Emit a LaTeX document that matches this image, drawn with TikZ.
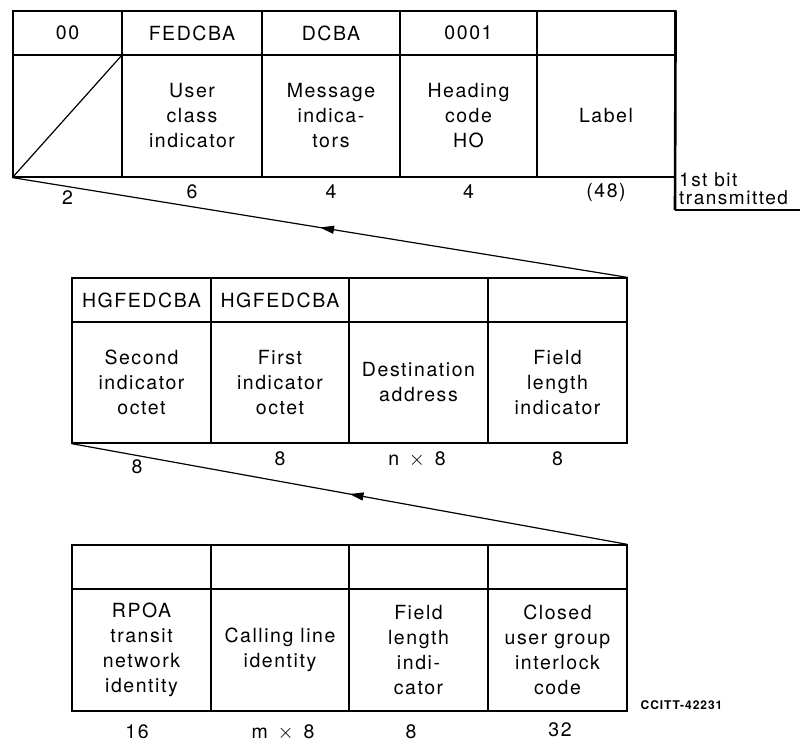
\documentclass[tikz,border=0pt]{standalone}
\usepackage{fontspec}
\setmainfont{TeX Gyre Heros}[LetterSpace=8]
\usetikzlibrary{arrows.meta,decorations.markings}

\tikzstyle{field} = [draw, line width=1.2pt, inner sep=0pt, align=center, font=\fontsize{19.5}{25}\selectfont]
\tikzstyle{head} = [field, minimum height=44pt]
\tikzstyle{body} = [field, minimum height=122pt]
\tikzstyle{bits} = [inner sep=0pt, font=\fontsize{19.5}{25}\selectfont]
\tikzstyle{flow} = [line width=1.2pt, postaction={decorate}, decoration={markings, mark=at position 0.5 with {\arrow{Triangle[length=14pt,width=8pt]}}}]

\begin{document}
\begin{tikzpicture}[x=1pt,y=-1pt]
		\useasboundingbox (0,0) rectangle (801,744);

		% heading part
		\node[head, minimum width=109pt] (a1) at (67.5,33) {00};
		\node[head, minimum width=140pt] (a2) at (192,33) {FEDCBA};
		\node[head, minimum width=138pt] (a3) at (331,33) {DCBA};
		\node[head, minimum width=137pt] (a4) at (468.5,33) {0001};
		\node[head, minimum width=138pt] (a5) at (606,33) {};
		\node[body, minimum width=109pt] (b1) at (67.5,116) {};
		\node[body, minimum width=140pt] (b2) at (192,116) {User\\class\\indicator};
		\node[body, minimum width=138pt] (b3) at (331,116) {Message\\indica-\\tors};
		\node[body, minimum width=137pt] (b4) at (468.5,116) {Heading\\code\\HO};
		\node[body, minimum width=138pt] (b5) at (606,116) {Label};
		\draw[line width=1.2pt] (b1.south west) -- (b1.north east);
		\node[bits] (s1) at (67.5,198) {2};
		\node[bits] (s2) at (192,192) {6};
		\node[bits] (s3) at (331,192) {4};
		\node[bits] (s4) at (468.5,192) {4};
		\node[bits] (s5) at (606,192) {(48)};

		\coordinate (bitcorner) at (675,210);
		\coordinate (bitend) at (800,210);
		\draw[line width=2.6pt] (a5.north east) -- (bitcorner);
		\draw[line width=1.2pt] (bitcorner) -- (bitend);
		\node[anchor=north west, inner sep=0pt, align=left, font=\fontsize{19}{18}\selectfont] (first) at (679,172) {1st bit\\transmitted};

		% address part
		\node[head, minimum width=139pt] (c1) at (141.5,300) {HGFEDCBA};
		\node[head, minimum width=138pt] (c2) at (280,300) {HGFEDCBA};
		\node[head, minimum width=139pt] (c3) at (418.5,300) {};
		\node[head, minimum width=139pt] (c4) at (557.5,300) {};
		\node[body, minimum width=139pt, minimum height=121pt] (d1) at (141.5,382.5) {Second\\indicator\\octet};
		\node[body, minimum width=138pt, minimum height=121pt] (d2) at (280,382.5) {First\\indicator\\octet};
		\node[body, minimum width=139pt, minimum height=121pt] (d3) at (418.5,382.5) {Destination\\address};
		\node[body, minimum width=139pt, minimum height=121pt] (d4) at (557.5,382.5) {Field\\length\\indicator};
		\node[bits] (t1) at (137,467) {8};
		\node[bits] (t2) at (280,459) {8};
		\node[bits] (t3) at (417,459) {n\enspace$\times$\enspace8};
		\node[bits] (t4) at (557.5,459) {8};
		\draw[flow] (c4.north east) -- (b1.south west);

		% facilities part
		\node[head, minimum width=139pt] (e1) at (141.5,567) {};
		\node[head, minimum width=138pt] (e2) at (280,567) {};
		\node[head, minimum width=139pt] (e3) at (418.5,567) {};
		\node[head, minimum width=139pt] (e4) at (557.5,567) {};
		\node[body, minimum width=139pt] (f1) at (141.5,650) {RPOA\\transit\\network\\identity};
		\node[body, minimum width=138pt] (f2) at (280,650) {Calling line\\identity};
		\node[body, minimum width=139pt] (f3) at (418.5,650) {Field\\length\\indi-\\cator};
		\node[body, minimum width=139pt] (f4) at (557.5,650) {Closed\\user group\\interlock\\code};
		\node[bits] (u1) at (137,732) {16};
		\node[bits] (u2) at (283,732) {m\enspace$\times$\enspace8};
		\node[bits] (u3) at (411,732) {8};
		\node[bits] (u4) at (560,730) {32};
		\draw[flow] (e4.north east) -- (d1.south west);

		\node[inner sep=0pt, font=\bfseries\fontsize{12}{12}\selectfont] (ccitt) at (681.5,705) {CCITT-42231};
		\end{tikzpicture}
\end{document}
